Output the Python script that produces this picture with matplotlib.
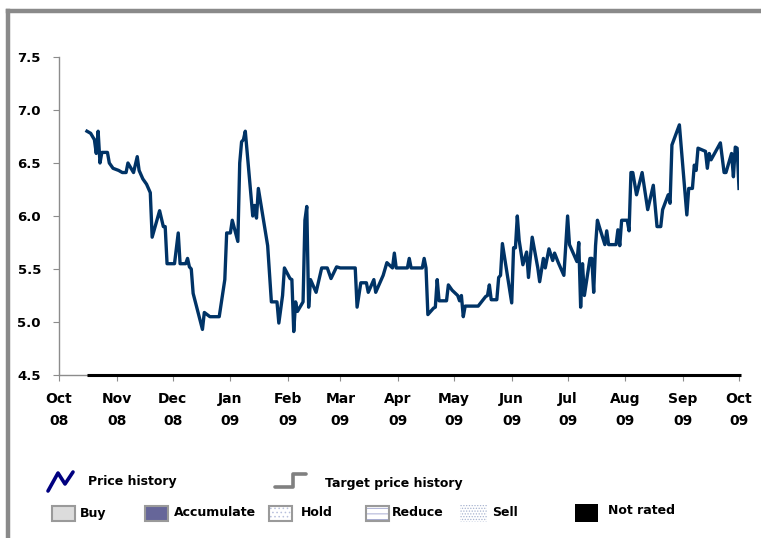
import datetime as dt
import matplotlib
matplotlib.use("Agg")
import matplotlib.pyplot as plt
import matplotlib.dates as mdates
from matplotlib.patches import Rectangle
from matplotlib.lines import Line2D

plt.rcParams['font.family'] = ['DejaVu Sans']
plt.rcParams['font.weight'] = 'bold'
plt.rcParams['hatch.linewidth'] = 0.6

# price history, days counted from 1 Oct 2008
start = dt.date(2008, 10, 1)
days = [15, 17, 19, 20, 21, 22, 23, 26, 27, 29, 32, 34, 36, 37, 40, 42, 43, 45, 47, 49,
        50, 54, 56, 57, 58, 62, 64, 65, 68, 69, 70, 71, 72, 77, 78, 81, 86, 89, 90, 92,
        93, 96, 97, 98, 99, 100, 104, 105, 106, 107, 112, 114, 117, 118, 120, 121, 124, 125, 126, 127,
        128, 131, 132, 133, 134, 135, 138, 141, 144, 146, 149, 151, 159, 160, 162, 165, 166, 169, 170, 174,
        176, 179, 180, 181, 187, 188, 189, 195, 196, 197, 198, 201, 202, 203, 204, 208, 209, 211, 214, 215,
        216, 217, 218, 225, 229, 230, 231, 232, 235, 236, 237, 238, 243, 244, 245, 246, 247, 249, 251, 252,
        254, 257, 258, 260, 261, 263, 265, 266, 268, 271, 273, 274, 278, 279, 280, 281, 282, 285, 286, 287,
        288, 289, 290, 293, 294, 295, 299, 300, 301, 302, 305, 306, 307, 308, 310, 313, 316, 319, 321, 323,
        324, 327, 328, 329, 333, 337, 338, 340, 341, 342, 343, 347, 348, 349, 350, 355, 357, 358, 361, 362,
        363, 364, 365]
price = [6.80, 6.78, 6.72, 6.59, 6.80, 6.50, 6.60, 6.60, 6.50, 6.45, 6.43, 6.41, 6.41, 6.50, 6.41, 6.56, 6.43, 6.35, 6.30, 6.22,
         5.80, 6.05, 5.90, 5.90, 5.55, 5.55, 5.84, 5.55, 5.55, 5.60, 5.52, 5.50, 5.27, 4.93, 5.09, 5.05, 5.05, 5.40, 5.84, 5.84,
         5.96, 5.76, 6.50, 6.70, 6.72, 6.80, 6.00, 6.10, 5.98, 6.26, 5.72, 5.19, 5.19, 4.99, 5.25, 5.51, 5.41, 5.40, 4.91, 5.19,
         5.10, 5.19, 5.96, 6.09, 5.14, 5.40, 5.28, 5.51, 5.51, 5.41, 5.52, 5.51, 5.51, 5.14, 5.37, 5.37, 5.28, 5.40, 5.28, 5.44,
         5.56, 5.51, 5.65, 5.51, 5.51, 5.60, 5.51, 5.51, 5.60, 5.51, 5.07, 5.13, 5.14, 5.40, 5.20, 5.20, 5.35, 5.30, 5.25, 5.20,
         5.25, 5.05, 5.15, 5.15, 5.24, 5.25, 5.35, 5.21, 5.21, 5.42, 5.44, 5.74, 5.18, 5.70, 5.70, 6.00, 5.77, 5.54, 5.66, 5.42,
         5.80, 5.51, 5.38, 5.60, 5.51, 5.69, 5.58, 5.65, 5.56, 5.44, 6.00, 5.73, 5.57, 5.75, 5.14, 5.55, 5.25, 5.60, 5.60, 5.28,
         5.72, 5.96, 5.90, 5.73, 5.86, 5.73, 5.73, 5.87, 5.72, 5.96, 5.96, 5.86, 6.41, 6.41, 6.20, 6.41, 6.06, 6.29, 5.90, 5.90,
         6.06, 6.20, 6.12, 6.67, 6.86, 6.01, 6.26, 6.26, 6.48, 6.43, 6.64, 6.61, 6.45, 6.59, 6.53, 6.69, 6.41, 6.41, 6.59, 6.37,
         6.65, 6.64, 6.26]

# rating bar (not rated for the whole period)
rating_from = 15
rating_to = 366

month_ticks = [dt.date(2008 + (9 + i) // 12, (9 + i) % 12 + 1, 1) for i in range(13)]
y_ticks = [4.5, 5.0, 5.5, 6.0, 6.5, 7.0, 7.5]

dates = [start + dt.timedelta(days=d) for d in days]

fig = plt.figure(figsize=(7.61, 5.38), dpi=100)
W, H = 761, 538

def fx(px):
    return px / W

def fy(py):
    return 1 - py / H

# grey frame
fig.add_artist(Line2D([fx(8), fx(8)], [fy(11), 0], color='#8a8a8a', lw=3.2))
fig.add_artist(Line2D([fx(8), 1], [fy(11), fy(11)], color='#8a8a8a', lw=3.2))

ax = fig.add_axes([fx(59), fy(375), fx(739) - fx(59), fy(57) - fy(375)])
ax.plot(dates, price, color='#003366', lw=2.4, solid_joinstyle='round')
ax.plot([start + dt.timedelta(days=rating_from), start + dt.timedelta(days=rating_to)],
        [4.5, 4.5], color='black', lw=2.2, clip_on=False, solid_capstyle='butt', zorder=5)

ax.set_xlim(month_ticks[0], month_ticks[-1])
ax.set_ylim(4.5, 7.5)
ax.set_yticks(y_ticks)
ax.set_yticklabels(['%.1f' % v for v in y_ticks])
ax.set_xticks(month_ticks)
ax.xaxis.set_major_formatter(mdates.DateFormatter('%b\n%y'))

for s in ['top', 'right']:
    ax.spines[s].set_visible(False)
ax.spines['left'].set_color('#8c8c8c')
ax.spines['bottom'].set_color('#8c8c8c')
ax.spines['left'].set_linewidth(1)
ax.spines['bottom'].set_linewidth(1)
ax.tick_params(axis='y', colors='#8c8c8c', labelcolor='black', length=4, pad=9, labelsize=9.5)
ax.tick_params(axis='x', colors='#8c8c8c', labelcolor='black', length=4, pad=8, labelsize=10)
for lab in ax.get_xticklabels():
    lab.set_linespacing(1.75)
    lab.set_fontweight('bold')
for lab in ax.get_yticklabels():
    lab.set_fontweight('bold')

# legend row 1
fig.add_artist(Line2D([fx(48), fx(58), fx(65), fx(73)], [fy(491), fy(473), fy(484), fy(472)],
                      color='#000080', lw=2.6, solid_joinstyle='round', solid_capstyle='round'))
fig.text(fx(88), fy(481), 'Price history', fontsize=9, weight='bold', va='center', ha='left')
fig.add_artist(Line2D([fx(275), fx(293), fx(293), fx(306)], [fy(487), fy(487), fy(474), fy(474)],
                      color='#808080', lw=2.6, solid_capstyle='round'))
fig.text(fx(325), fy(483), 'Target price history', fontsize=9, weight='bold', va='center', ha='left')

# legend row 2
def box(x0, x1, y0, y1, **kw):
    fig.add_artist(Rectangle((fx(x0), fy(y1)), fx(x1) - fx(x0), fy(y0) - fy(y1), **kw))

box(52, 75, 506, 521, facecolor='#dcdcdc', edgecolor='#9a9a9a', lw=1.5)
fig.text(fx(80), fy(513), 'Buy', fontsize=9, weight='bold', va='center')
box(145, 168, 506, 521, facecolor='#666699', edgecolor='#9a9a9a', lw=1.5)
fig.text(fx(174), fy(513), 'Accumulate', fontsize=9, weight='bold', va='center')
box(269, 292, 506, 521, facecolor='white', edgecolor='none', lw=0)
box(269, 292, 506, 521, facecolor='none', edgecolor='#b8c0dc', hatch='....', lw=0)
box(269, 292, 506, 521, facecolor='none', edgecolor='#9a9a9a', lw=1.5)
fig.text(fx(301), fy(513), 'Hold', fontsize=9, weight='bold', va='center')
box(366, 389, 506, 521, facecolor='white', edgecolor='none', lw=0)
box(366, 389, 506, 521, facecolor='none', edgecolor='#9aa0cc', hatch='---', lw=0)
box(366, 389, 506, 521, facecolor='none', edgecolor='#9a9a9a', lw=1.5)
fig.text(fx(392), fy(513), 'Reduce', fontsize=9, weight='bold', va='center')
box(460, 487, 505, 522, facecolor='white', edgecolor='#a8b4d0', hatch='......', lw=0)
fig.text(fx(492), fy(513), 'Sell', fontsize=9, weight='bold', va='center')
box(575, 598, 504, 522, facecolor='black', edgecolor='black', lw=0)
fig.text(fx(608), fy(511), 'Not rated', fontsize=9, weight='bold', va='center')

fig.savefig('out.png', dpi=100)
